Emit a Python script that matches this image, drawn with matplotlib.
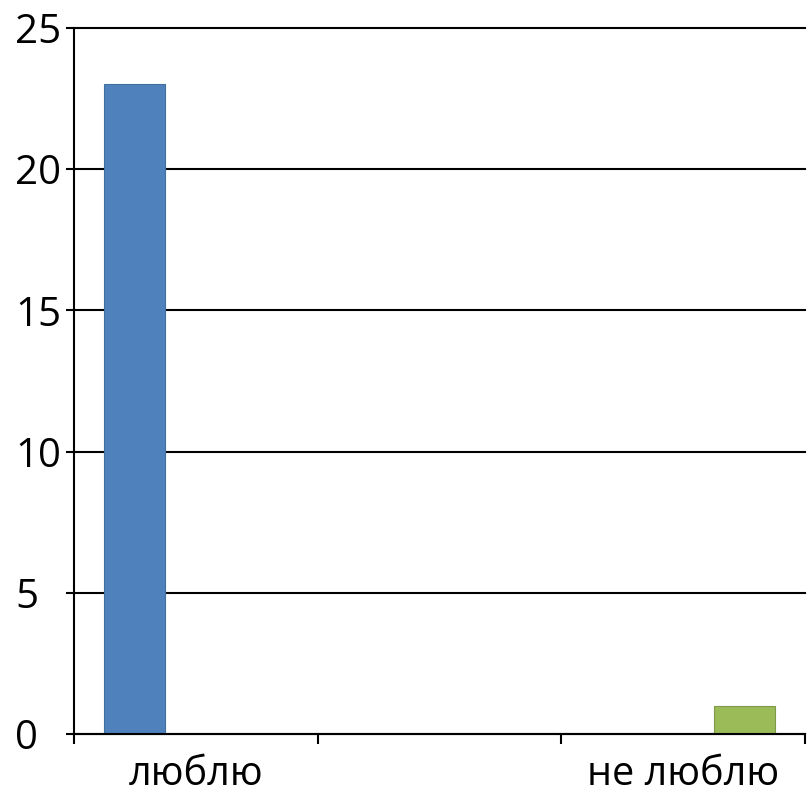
import numpy as np
import matplotlib.pyplot as plt

# data
categories = ['люблю', '', 'не люблю']
series_blue = [23, 0, 0]
series_red = [0, 0, 0]
series_green = [0, 0, 1]

plt.rcParams['font.family'] = ['Open Sans', 'DejaVu Sans']

fig = plt.figure(figsize=(8.07, 7.96), dpi=100)
ax = fig.add_axes([74/807, 62/796, 731/807, 706/796])

x = np.arange(len(categories))
w = 0.25
ax.bar(x - w, series_blue, w, color='#4F81BD', edgecolor='#41709F', linewidth=0.8, zorder=3)
ax.bar(x, series_red, w, color='#C0504D', edgecolor='#C0504D', linewidth=0, zorder=3)
ax.bar(x + w, series_green, w, color='#9BBB59', edgecolor='#7F9A48', linewidth=0.8, zorder=3)

ax.set_xlim(-0.5, len(categories) - 0.5)
ax.set_ylim(0, 25)
ax.set_yticks([0, 5, 10, 15, 20, 25])
ax.yaxis.grid(True, color='black', linewidth=1.5)
ax.set_axisbelow(True)
for gl in ax.yaxis.get_gridlines():
    gl.set_clip_on(False)

# category boundaries as major ticks, labels at centres
ax.set_xticks(np.arange(len(categories) + 1) - 0.5)
ax.set_xticklabels([])
ax.set_xticks(x, minor=True)
ax.set_xticklabels(categories, minor=True)
ax.tick_params(axis='x', which='minor', length=0, pad=15, labelsize=28.5)
ax.tick_params(axis='x', which='major', length=7.2, width=1.5, direction='out')
# y labels are left aligned in the reference
ax.tick_params(axis='y', length=5.8, width=1.5, direction='out', pad=36.5, labelsize=29)
for lab in ax.get_yticklabels():
    lab.set_horizontalalignment('left')

for s in ['top', 'right']:
    ax.spines[s].set_visible(False)
ax.spines['left'].set_linewidth(1.5)
ax.spines['bottom'].set_linewidth(1.5)
ax.spines['left'].set_zorder(4)
ax.spines['bottom'].set_zorder(4)

fig.savefig('out.png', dpi=100)
